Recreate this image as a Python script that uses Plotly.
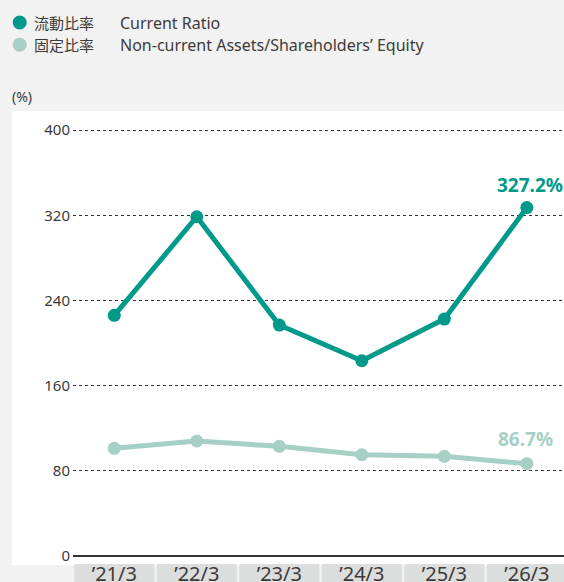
import plotly.graph_objects as go

categories = ["’21/3", "’22/3", "’23/3", "’24/3", "’25/3", "’26/3"]
current_ratio = [226.0, 318.6, 216.9, 183.4, 222.5, 327.2]
fixed_ratio = [101.1, 108.0, 103.0, 95.1, 93.6, 86.7]
y_ticks = [0, 80, 160, 240, 320, 400]
series_names = ["流動比率　 Current Ratio", "固定比率　 Non-current Assets/Shareholders’ Equity"]

TEAL = "#00998a"
LIGHT = "#a6cfc5"
TEXT = "#3e3a39"
FONT = "Noto Sans, Noto Sans CJK JP, sans-serif"

W, H = 564, 582
ML, MR, MT, MB = 73, 0, 129, 26
PW, PH = W - ML - MR, H - MT - MB
YMAX = 401

def px_x(px):
    return (px - ML) / PW

def px_y(py):
    return (H - MB - py) / PH

fig = go.Figure()
fig.add_trace(go.Scatter(
    x=categories, y=fixed_ratio, mode="lines+markers",
    line=dict(color=LIGHT, width=5), marker=dict(color=LIGHT, size=13),
    showlegend=False, cliponaxis=False, name=series_names[1]))
fig.add_trace(go.Scatter(
    x=categories, y=current_ratio, mode="lines+markers",
    line=dict(color=TEAL, width=5), marker=dict(color=TEAL, size=13),
    showlegend=False, cliponaxis=False, name=series_names[0]))

shapes = []
# white panel
shapes.append(dict(type="rect", xref="paper", yref="paper",
                   x0=px_x(12), x1=1.0, y0=px_y(565), y1=px_y(111),
                   fillcolor="white", line=dict(width=0), layer="below"))
# category boxes
for i, c in enumerate(categories):
    shapes.append(dict(type="rect", xref="x", yref="paper",
                       x0=i - 0.485, x1=i + 0.485, y0=px_y(600), y1=px_y(564),
                       fillcolor="#dcdddd", line=dict(width=0), layer="below"))
# legend circles
for cy, col in [(22.5, TEAL), (44.7, LIGHT)]:
    shapes.append(dict(type="circle", xref="paper", yref="paper",
                       x0=px_x(12.7), x1=px_x(26.7), y0=px_y(cy + 7), y1=px_y(cy - 7),
                       fillcolor=col, line=dict(width=0)))

annotations = []
legend_rows = [("流動比率", "Current Ratio", 22.5), ("固定比率", "Non-current Assets/Shareholders’ Equity", 44.7)]
for jp, en, cy in legend_rows:
    annotations.append(dict(text=jp, xref="paper", yref="paper", x=px_x(32), y=px_y(cy),
                            xanchor="left", yanchor="middle", showarrow=False,
                            font=dict(size=15, color=TEXT, family=FONT)))
    annotations.append(dict(text=en, xref="paper", yref="paper", x=px_x(118), y=px_y(cy),
                            xanchor="left", yanchor="middle", showarrow=False,
                            font=dict(size=16, color=TEXT, family=FONT)))
annotations.append(dict(text="(%)", xref="paper", yref="paper", x=px_x(10), y=px_y(97),
                        xanchor="left", yanchor="middle", showarrow=False,
                        font=dict(size=14, color=TEXT, family=FONT)))
# value labels on last points
annotations.append(dict(text=f"{current_ratio[-1]:.1f}%", x=categories[-1], y=current_ratio[-1],
                        xref="x", yref="y", xanchor="center", yanchor="bottom", yshift=8, xshift=3,
                        showarrow=False, font=dict(size=19, color=TEAL, family=FONT, weight="bold")))
annotations.append(dict(text=f"{fixed_ratio[-1]:.1f}%", x=categories[-1], y=fixed_ratio[-1],
                        xref="x", yref="y", xanchor="center", yanchor="bottom", yshift=10, xshift=-1,
                        showarrow=False, font=dict(size=19, color=LIGHT, family=FONT, weight="bold")))

fig.update_layout(
    width=W, height=H,
    margin=dict(l=ML, r=MR, t=MT, b=MB, pad=0, autoexpand=False),
    paper_bgcolor="#f1f2f1", plot_bgcolor="rgba(0,0,0,0)",
    shapes=shapes, annotations=annotations,
    font=dict(family=FONT, color=TEXT),
    xaxis=dict(type="category", range=[-0.5, 5.45], showgrid=False, zeroline=False,
               showline=False, ticks="", tickfont=dict(size=20, color=TEXT, family=FONT),
               ticklabelstandoff=4, fixedrange=True, automargin=False),
    yaxis=dict(range=[0, YMAX], tickvals=y_ticks, showgrid=True, gridcolor="#333333",
               griddash="dot", gridwidth=1, zeroline=True, zerolinecolor="#333333",
               zerolinewidth=1.5, showline=False, ticks="",
               tickfont=dict(size=15, color=TEXT, family=FONT), ticklabelstandoff=2,
               fixedrange=True, automargin=False),
)

fig.write_html("out.html", config={"displayModeBar": False},
               post_script="document.body.style.margin='0';document.body.style.overflow='hidden';")
